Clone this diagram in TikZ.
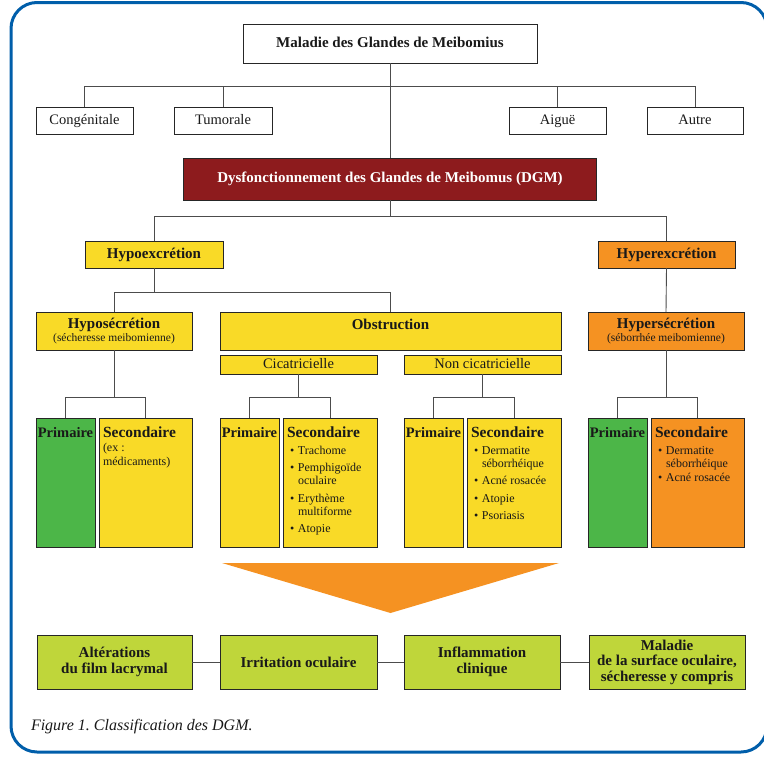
\documentclass[tikz,border=0pt]{standalone}
\usepackage{fontspec}
\setmainfont{Liberation Serif}
\usepackage{tikz}

\definecolor{dgmblue}{RGB}{0,94,170}
\definecolor{dgmred}{RGB}{141,27,29}
\definecolor{dgmyellow}{RGB}{249,218,39}
\definecolor{dgmorange}{RGB}{245,146,34}
\definecolor{dgmgreen}{RGB}{76,182,72}
\definecolor{dgmlime}{RGB}{191,214,58}
\newcommand{\fs}[2]{\fontsize{#1}{#2}\selectfont}

\begin{document}
\begin{tikzpicture}[x=1pt,y=-1pt,
  every node/.style={inner sep=2pt, outer sep=0pt, text=black!90},
  box/.style={draw=black!85, line width=0.7pt, align=center},
  conn/.style={draw=black!70, line width=0.9pt},
  hd/.style={font=\bfseries\fs{15}{16}, text height=10.5pt, text depth=3pt},
  rg/.style={font=\fs{14.5}{16}, text height=10.5pt, text depth=3pt},
  sm/.style={font=\fs{12}{13}},
  colhd/.style={font=\bfseries\fs{14.5}{16}, inner sep=0pt},
  sechd/.style={font=\bfseries\fs{15.5}{17}, inner sep=0pt},
  whitebox/.style={box, fill=white},
  yelbox/.style={box, fill=dgmyellow},
  orgbox/.style={box, fill=dgmorange},
  grnbox/.style={box, fill=dgmgreen},
  limebox/.style={box, fill=dgmlime, font=\bfseries\fs{15}{16.5}, minimum width=156, minimum height=54},
  colbox/.style={minimum height=129}]
\useasboundingbox (0,0) rectangle (764,756);
\clip (0,0) rectangle (764,756);
\draw[dgmblue, line width=3pt, rounded corners=26pt] (767,40) -- (767,2.5) -- (11,2.5) -- (11,752) -- (767,752) -- (767,714);

\node[whitebox, hd, minimum width=294, minimum height=39] (mgm) at (390,43.5) {Maladie des Glandes de Meibomius};
\node[whitebox, rg, minimum width=97, minimum height=27] (cong) at (84.5,120.5) {Congénitale};
\node[whitebox, rg, minimum width=98, minimum height=27] (tum) at (223,120.5) {Tumorale};
\node[whitebox, rg, minimum width=97, minimum height=27] (aig) at (557.5,120.5) {Aiguë};
\node[whitebox, rg, minimum width=96, minimum height=27] (autre) at (695,120.5) {Autre};
\node[box, fill=dgmred, hd, text=white, minimum width=413, minimum height=42] (dgm) at (390,179) {Dysfonctionnement des Glandes de Meibomus (DGM)};

\node[yelbox, hd, minimum width=138, minimum height=27] (hypoex) at (154,254.5) {Hypoexcrétion};
\node[orgbox, hd, minimum width=137, minimum height=27] (hyperex) at (666.5,254.5) {Hyperexcrétion};

\node[yelbox, minimum width=156, minimum height=38, inner sep=0pt] (hyposec) at (114,331) {{\bfseries\fs{15}{14}Hyposécrétion}\\[1pt]{\fs{11.5}{12}(sécheresse meibomienne)}};
\node[yelbox, minimum width=341, minimum height=38] (obstr) at (390.5,331) {};
\node[hd, inner sep=0pt] (obstrt) at ([yshift=5pt]obstr.center) {Obstruction};
\node[orgbox, minimum width=156, minimum height=38, inner sep=0pt] (hypersec) at (666,331) {{\bfseries\fs{15}{14}Hypersécrétion}\\[1pt]{\fs{11.5}{12}(séborrhée meibomienne)}};
\node[yelbox, rg, minimum width=157, minimum height=19, inner sep=0pt] (cica) at (298.5,364.5) {Cicatricielle};
\node[yelbox, rg, minimum width=157, minimum height=19, inner sep=0pt] (noncica) at (482.5,364.5) {Non cicatricielle};

\node[grnbox, colbox, minimum width=59] (p1) at (65.5,482.5) {};
\node[yelbox, colbox, minimum width=93] (s1) at (145.5,482.5) {};
\node[yelbox, colbox, minimum width=59] (p2) at (249.5,482.5) {};
\node[yelbox, colbox, minimum width=94] (s2) at (330,482.5) {};
\node[yelbox, colbox, minimum width=59] (p3) at (433.5,482.5) {};
\node[yelbox, colbox, minimum width=94] (s3) at (514,482.5) {};
\node[grnbox, colbox, minimum width=59] (p4) at (617.5,482.5) {};
\node[orgbox, colbox, minimum width=93] (s4) at (697.5,482.5) {};

\node[colhd, anchor=north] (p1t) at ([yshift=-9pt]p1.north) {Primaire};
\node[colhd, anchor=north] (p2t) at ([yshift=-9pt]p2.north) {Primaire};
\node[colhd, anchor=north] (p3t) at ([yshift=-9pt]p3.north) {Primaire};
\node[colhd, anchor=north] (p4t) at ([yshift=-9pt]p4.north) {Primaire};
\node[sechd, anchor=north west] (s1t) at ([xshift=4pt,yshift=-8.5pt]s1.north west) {Secondaire};
\node[sechd, anchor=north west] (s2t) at ([xshift=4pt,yshift=-8.5pt]s2.north west) {Secondaire};
\node[sechd, anchor=north west] (s3t) at ([xshift=4pt,yshift=-8.5pt]s3.north west) {Secondaire};
\node[sechd, anchor=north west] (s4t) at ([xshift=4pt,yshift=-8.5pt]s4.north west) {Secondaire};

\node[font=\fs{12}{14}, align=left, anchor=north west, inner sep=0pt] (s1l) at ([xshift=4pt,yshift=-25pt]s1.north west) {(ex :\\médicaments)};
\node[sm, anchor=north west, inner sep=0pt] (s2l) at ([xshift=7pt,yshift=-27pt]s2.north west) {%
\begin{tabular}{@{}p{8pt}@{}l@{}}
\textbullet & Trachome\\[4.5pt]
\textbullet & Pemphigoïde\\
 & oculaire\\[4.5pt]
\textbullet & Erythème\\
 & multiforme\\[4.5pt]
\textbullet & Atopie
\end{tabular}};
\node[sm, anchor=north west, inner sep=0pt] (s3l) at ([xshift=7pt,yshift=-27pt]s3.north west) {%
\begin{tabular}{@{}p{8pt}@{}l@{}}
\textbullet & Dermatite\\
 & séborrhéique\\[4.5pt]
\textbullet & Acné rosacée\\[4.5pt]
\textbullet & Atopie\\[4.5pt]
\textbullet & Psoriasis
\end{tabular}};
\node[sm, anchor=north west, inner sep=0pt] (s4l) at ([xshift=7pt,yshift=-27pt]s4.north west) {%
\begin{tabular}{@{}p{8pt}@{}l@{}}
\textbullet & Dermatite\\
 & séborrhéique\\[1pt]
\textbullet & Acné rosacée
\end{tabular}};

\fill[dgmorange] (222,563) -- (559,563) -- (390.5,613) -- cycle;

\node[limebox, minimum width=155] (b1) at (114.5,662) {Altérations\\du film lacrymal};
\node[limebox, minimum width=157] (b2) at (298.5,662) {Irritation oculaire};
\node[limebox] (b3) at (482,662) {Inflammation\\clinique};
\node[limebox, font=\bfseries\fs{15}{15.5}] (b4) at (667,662) {Maladie\\de la surface oculaire,\\sécheresse y compris};

\node[font=\itshape\fs{16}{18}, anchor=base west, inner sep=0pt] (cap) at (31,730) {Figure 1.\ Classification des DGM.};

\draw[conn] (mgm.south) -- (dgm.north);
\draw[conn] (cong.north) -- ++(0,-21) -| (autre.north);
\draw[conn] (tum.north) -- ++(0,-21);
\draw[conn] (aig.north) -- ++(0,-21);
\draw[conn] (dgm.south) -- ++(0,16);
\draw[conn] (hypoex.north) -- ++(0,-25) -| (hyperex.north);
\draw[conn] (hypoex.south) -- ++(0,24);
\draw[conn] (hyposec.north) -- ++(0,-20) -| (obstr.north);
\draw[conn] (hyperex.south) -- (hypersec.north);
\draw[conn] (hyposec.south) -- ++(0,47);
\draw[conn] (p1.north) -- ++(0,-21) -| (s1.north);
\draw[conn] (cica.south) -- ++(0,23);
\draw[conn] (p2.north) -- ++(0,-21) -| (s2.north);
\draw[conn] (noncica.south) -- ++(0,23);
\draw[conn] (p3.north) -- ++(0,-21) -| (s3.north);
\draw[conn] (hypersec.south) -- ++(0,47);
\draw[conn] (p4.north) -- ++(0,-21) -| (s4.north);
\draw[conn] (b1.east) -- (b2.west);
\draw[conn] (b2.east) -- (b3.west);
\draw[conn] (b3.east) -- (b4.west);
\end{tikzpicture}
\end{document}
